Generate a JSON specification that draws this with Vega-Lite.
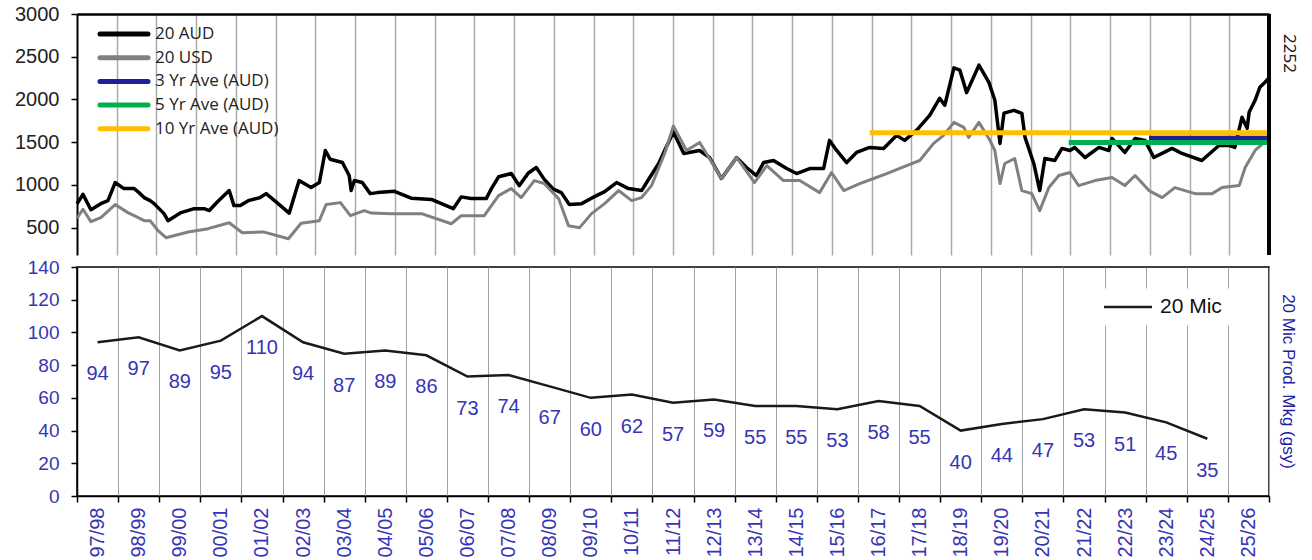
{
  "$schema": "https://vega.github.io/schema/vega-lite/v6.json",
  "background": "white",
  "padding": {"left": 14, "top": 4, "right": 6, "bottom": 0},
  "autosize": {"type": "pad"},
  "spacing": 0,
  "config": {"font": "Liberation Sans", "view": {"stroke": null}},
  "resolve": {"scale": {"color": "independent", "x": "independent", "y": "independent"}, "legend": {"color": "independent"}},
  "datasets": {
    "aud": [
      {"t":1996.00,"v":780},{"t":1996.15,"v":890},{"t":1996.35,"v":710},{"t":1996.60,"v":781},{"t":1996.78,"v":816},{"t":1996.96,"v":1028},{"t":1997.18,"v":957},{"t":1997.44,"v":957},{"t":1997.56,"v":910},{"t":1997.69,"v":852},{"t":1997.84,"v":816},{"t":1997.94,"v":781},{"t":1998.19,"v":664},{"t":1998.29,"v":582},{"t":1998.62,"v":676},{"t":1998.95,"v":722},{"t":1999.20,"v":722},{"t":1999.33,"v":700},{"t":1999.53,"v":800},{"t":1999.83,"v":934},{"t":1999.95,"v":758},{"t":2000.11,"v":758},{"t":2000.31,"v":816},{"t":2000.61,"v":852},{"t":2000.76,"v":898},{"t":2001.04,"v":790},{"t":2001.34,"v":670},{"t":2001.59,"v":1051},{"t":2001.89,"v":969},{"t":2002.10,"v":1028},{"t":2002.25,"v":1403},{"t":2002.37,"v":1300},{"t":2002.68,"v":1262},{"t":2002.85,"v":1110},{"t":2002.90,"v":934},{"t":2002.98,"v":1051},{"t":2003.18,"v":1028},{"t":2003.38,"v":898},{"t":2003.56,"v":910},{"t":2003.99,"v":925},{"t":2004.41,"v":845},{"t":2004.92,"v":830},{"t":2005.47,"v":722},{"t":2005.67,"v":860},{"t":2005.92,"v":840},{"t":2006.30,"v":840},{"t":2006.43,"v":957},{"t":2006.61,"v":1095},{"t":2006.93,"v":1133},{"t":2007.13,"v":992},{"t":2007.36,"v":1140},{"t":2007.56,"v":1204},{"t":2007.76,"v":1065},{"t":2007.99,"v":950},{"t":2008.19,"v":910},{"t":2008.39,"v":770},{"t":2008.70,"v":781},{"t":2008.95,"v":845},{"t":2009.28,"v":922},{"t":2009.58,"v":1028},{"t":2009.88,"v":957},{"t":2010.21,"v":934},{"t":2010.38,"v":1060},{"t":2010.64,"v":1251},{"t":2010.79,"v":1403},{"t":2011.01,"v":1620},{"t":2011.27,"v":1368},{"t":2011.67,"v":1403},{"t":2011.92,"v":1321},{"t":2012.22,"v":1075},{"t":2012.60,"v":1321},{"t":2012.85,"v":1204},{"t":2013.10,"v":1110},{"t":2013.28,"v":1262},{"t":2013.53,"v":1286},{"t":2013.86,"v":1192},{"t":2014.11,"v":1133},{"t":2014.44,"v":1192},{"t":2014.79,"v":1192},{"t":2014.94,"v":1521},{"t":2015.12,"v":1403},{"t":2015.37,"v":1262},{"t":2015.62,"v":1380},{"t":2015.95,"v":1439},{"t":2016.30,"v":1427},{"t":2016.63,"v":1580},{"t":2016.83,"v":1521},{"t":2017.13,"v":1638},{"t":2017.46,"v":1814},{"t":2017.71,"v":2014},{"t":2017.84,"v":1932},{"t":2018.07,"v":2370},{"t":2018.22,"v":2343},{"t":2018.39,"v":2080},{"t":2018.70,"v":2401},{"t":2018.95,"v":2200},{"t":2019.10,"v":1990},{"t":2019.23,"v":1486},{"t":2019.33,"v":1840},{"t":2019.58,"v":1873},{"t":2019.78,"v":1838},{"t":2019.86,"v":1556},{"t":2020.08,"v":1251},{"t":2020.23,"v":934},{"t":2020.36,"v":1309},{"t":2020.61,"v":1286},{"t":2020.79,"v":1427},{"t":2020.99,"v":1403},{"t":2021.11,"v":1439},{"t":2021.37,"v":1321},{"t":2021.72,"v":1439},{"t":2021.97,"v":1403},{"t":2022.05,"v":1544},{"t":2022.37,"v":1380},{"t":2022.63,"v":1544},{"t":2022.88,"v":1521},{"t":2023.10,"v":1321},{"t":2023.56,"v":1427},{"t":2023.81,"v":1368},{"t":2024.31,"v":1286},{"t":2024.74,"v":1462},{"t":2024.99,"v":1462},{"t":2025.14,"v":1439},{"t":2025.32,"v":1791},{"t":2025.45,"v":1662},{"t":2025.50,"v":1850},{"t":2025.65,"v":1990},{"t":2025.77,"v":2143},{"t":2025.90,"v":2202},{"t":2026.00,"v":2252}
    ],
    "usd": [
      {"t":1996.00,"v":610},{"t":1996.15,"v":715},{"t":1996.35,"v":570},{"t":1996.60,"v":617},{"t":1996.96,"v":770},{"t":1997.28,"v":676},{"t":1997.44,"v":640},{"t":1997.69,"v":582},{"t":1997.84,"v":582},{"t":1998.04,"v":464},{"t":1998.24,"v":382},{"t":1998.80,"v":450},{"t":1999.30,"v":488},{"t":1999.83,"v":558},{"t":2000.16,"v":441},{"t":2000.69,"v":450},{"t":2001.32,"v":370},{"t":2001.64,"v":552},{"t":2002.10,"v":582},{"t":2002.27,"v":770},{"t":2002.63,"v":793},{"t":2002.88,"v":640},{"t":2003.23,"v":699},{"t":2003.41,"v":670},{"t":2003.91,"v":664},{"t":2004.67,"v":664},{"t":2005.42,"v":546},{"t":2005.67,"v":640},{"t":2006.25,"v":640},{"t":2006.61,"v":875},{"t":2006.93,"v":957},{"t":2007.18,"v":852},{"t":2007.51,"v":1051},{"t":2007.76,"v":1016},{"t":2008.12,"v":840},{"t":2008.37,"v":523},{"t":2008.65,"v":500},{"t":2008.95,"v":664},{"t":2009.28,"v":781},{"t":2009.63,"v":934},{"t":2009.96,"v":816},{"t":2010.21,"v":852},{"t":2010.46,"v":992},{"t":2010.79,"v":1368},{"t":2011.01,"v":1690},{"t":2011.34,"v":1403},{"t":2011.67,"v":1497},{"t":2011.92,"v":1309},{"t":2012.22,"v":1075},{"t":2012.60,"v":1321},{"t":2013.05,"v":1028},{"t":2013.36,"v":1227},{"t":2013.78,"v":1051},{"t":2014.19,"v":1051},{"t":2014.69,"v":910},{"t":2014.99,"v":1145},{"t":2015.30,"v":934},{"t":2015.70,"v":1016},{"t":2016.05,"v":1075},{"t":2016.38,"v":1133},{"t":2016.88,"v":1227},{"t":2017.21,"v":1286},{"t":2017.56,"v":1486},{"t":2017.81,"v":1580},{"t":2018.07,"v":1732},{"t":2018.32,"v":1674},{"t":2018.44,"v":1556},{"t":2018.70,"v":1732},{"t":2018.95,"v":1544},{"t":2019.10,"v":1403},{"t":2019.23,"v":1016},{"t":2019.35,"v":1251},{"t":2019.60,"v":1309},{"t":2019.78,"v":934},{"t":2020.03,"v":898},{"t":2020.23,"v":699},{"t":2020.46,"v":969},{"t":2020.71,"v":1110},{"t":2020.99,"v":1145},{"t":2021.21,"v":992},{"t":2021.62,"v":1051},{"t":2022.05,"v":1086},{"t":2022.37,"v":992},{"t":2022.63,"v":1110},{"t":2022.98,"v":934},{"t":2023.31,"v":852},{"t":2023.63,"v":969},{"t":2024.14,"v":898},{"t":2024.57,"v":898},{"t":2024.82,"v":969},{"t":2025.25,"v":992},{"t":2025.40,"v":1204},{"t":2025.65,"v":1403},{"t":2025.88,"v":1497},{"t":2026.00,"v":1497}
    ],
    "ave": [
      {"s":"10 Yr Ave (AUD)","t":2015.95,"v":1610},{"s":"10 Yr Ave (AUD)","t":2026.0,"v":1610},
      {"s":"3 Yr Ave (AUD)","t":2022.98,"v":1545},{"s":"3 Yr Ave (AUD)","t":2026.0,"v":1545},
      {"s":"5 Yr Ave (AUD)","t":2020.96,"v":1495},{"s":"5 Yr Ave (AUD)","t":2026.0,"v":1495}
    ],
    "last": [{"t":2026.0,"v":2252,"lab":"2252"}],
    "mic": [
      {"season":"97/98","mic":94},{"season":"98/99","mic":97},{"season":"99/00","mic":89},{"season":"00/01","mic":95},{"season":"01/02","mic":110},{"season":"02/03","mic":94},{"season":"03/04","mic":87},{"season":"04/05","mic":89},{"season":"05/06","mic":86},{"season":"06/07","mic":73},{"season":"07/08","mic":74},{"season":"08/09","mic":67},{"season":"09/10","mic":60},{"season":"10/11","mic":62},{"season":"11/12","mic":57},{"season":"12/13","mic":59},{"season":"13/14","mic":55},{"season":"14/15","mic":55},{"season":"15/16","mic":53},{"season":"16/17","mic":58},{"season":"17/18","mic":55},{"season":"18/19","mic":40},{"season":"19/20","mic":44},{"season":"20/21","mic":47},{"season":"21/22","mic":53},{"season":"22/23","mic":51},{"season":"23/24","mic":45},{"season":"24/25","mic":35},{"season":"25/26","mic":null}
    ]
  },
  "vconcat": [
    {
      "width": 1192,
      "height": 241,
      "encoding": {
        "x": {"field": "t", "type": "quantitative",
          "scale": {"domain": [1996, 2026], "nice": false, "zero": false},
          "axis": {"orient": "top", "values": [1997,1998,1999,2000,2001,2002,2003,2004,2005,2006,2007,2008,2009,2010,2011,2012,2013,2014,2015,2016,2017,2018,2019,2020,2021,2022,2023,2024,2025],
            "grid": true, "gridColor": "#aaaaaa", "gridWidth": 1.5, "labels": false, "ticks": false,
            "domain": true, "domainColor": "black", "domainWidth": 2.5, "title": null}},
        "y": {"field": "v", "type": "quantitative",
          "scale": {"domain": [180, 3000], "nice": false, "zero": false},
          "axis": {"values": [500,1000,1500,2000,2500,3000], "format": "d", "grid": false, "domainColor": "black", "domainWidth": 2,
            "tickColor": "black", "tickSize": 6, "tickWidth": 1.5, "labelFontSize": 20, "labelColor": "#222222", "labelPadding": 12, "title": null}}
      },
      "layer": [
        {
          "data": {"name": "aud"},
          "mark": {"type": "line", "strokeWidth": 3.5, "strokeJoin": "round"},
          "encoding": {
            "color": {"datum": "20 AUD", "type": "nominal", "title": null,
              "scale": {"domain": ["20 AUD","20 USD","3 Yr Ave (AUD)","5 Yr Ave (AUD)","10 Yr Ave (AUD)"], "range": ["#000000","#808080","#1f1f9a","#00b050","#ffc000"]},
              "legend": {"orient": "none", "legendX": 17, "legendY": 11.5, "title": null, "padding": 0,
                "symbolType": "M-0.5,0H9.1", "symbolSize": 100, "symbolStrokeWidth": 5,
                "labelFont": "Open Sans", "labelFontSize": 17, "labelColor": "#222222", "labelOffset": 44, "labelLimit": 400,
                "rowPadding": 2.7,
                "encode": {"symbols": {"update": {"strokeCap": {"value": "round"}}}}}}
          }
        },
        {
          "data": {"name": "usd"},
          "mark": {"type": "line", "strokeWidth": 3, "strokeJoin": "round"},
          "encoding": {"color": {"datum": "20 USD", "type": "nominal", "title": null}}
        },
        {
          "data": {"name": "ave"},
          "mark": {"type": "line", "strokeWidth": 5},
          "encoding": {"color": {"field": "s", "type": "nominal", "title": null}}
        },
        {
          "data": {"name": "aud"},
          "mark": {"type": "rule", "color": "black", "strokeWidth": 2.5},
          "encoding": {"x": {"datum": 2026}, "y": null}
        },
        {
          "data": {"name": "last"},
          "mark": {"type": "text", "angle": 90, "align": "right", "baseline": "bottom", "dy": -11, "dx": -5, "font": "Open Sans", "fontSize": 17, "color": "#111111"},
          "encoding": {"text": {"field": "lab"}}
        }
      ]
    },
    {
      "width": 1192,
      "height": 229,
      "data": {"name": "mic"},
      "view": {"stroke": "black", "strokeWidth": 1.5},
      "title": {"text": "20 Mic Prod. Mkg (gsy)", "orient": "right", "anchor": "middle", "color": "#2020a0", "fontSize": 17, "fontWeight": "normal", "font": "Liberation Sans", "offset": 9},
      "encoding": {
        "x": {"field": "season", "type": "ordinal", "sort": null,
          "scale": {"domain": ["97/98","98/99","99/00","00/01","01/02","02/03","03/04","04/05","05/06","06/07","07/08","08/09","09/10","10/11","11/12","12/13","13/14","14/15","15/16","16/17","17/18","18/19","19/20","20/21","21/22","22/23","23/24","24/25","25/26"], "paddingInner": 0, "paddingOuter": 0},
          "axis": {"labelAngle": -90, "labelAlign": "right", "labelBaseline": "middle", "labelFontSize": 20, "labelColor": "#3535b5", "labelPadding": 5,
            "tickBand": "extent", "ticks": true, "tickColor": "black", "tickSize": 6, "tickWidth": 1.5,
            "grid": true, "gridColor": "#a0a0a0", "gridWidth": 1, "domainColor": "black", "domainWidth": 1.5, "title": null}},
        "y": {"field": "mic", "type": "quantitative",
          "scale": {"domain": [0, 140], "nice": false},
          "axis": {"values": [0,20,40,60,80,100,120,140], "grid": false, "domainColor": "black", "domainWidth": 1.5,
            "tickColor": "black", "tickSize": 6, "tickWidth": 1.5, "labelFontSize": 19, "labelColor": "#3535b5", "labelPadding": 12, "title": null}}
      },
      "layer": [
        {
          "mark": {"type": "line", "strokeWidth": 2.5},
          "encoding": {
            "color": {"datum": "20 Mic", "type": "nominal", "scale": {"range": ["#1a1a1a"]},
              "legend": {"orient": "none", "legendX": 1011, "legendY": 21.5, "title": null, "padding": 8, "fillColor": "white",
                "symbolType": "M-0.5,0H9.1", "symbolSize": 100, "symbolStrokeWidth": 2.5,
                "labelFontSize": 21, "labelColor": "#111111", "labelOffset": 43, "labelFont": "Liberation Sans"}}
          }
        },
        {
          "mark": {"type": "text", "dy": 32, "fontSize": 20, "color": "#3535b5"},
          "encoding": {"text": {"field": "mic", "type": "quantitative"}}
        }
      ]
    }
  ]
}
